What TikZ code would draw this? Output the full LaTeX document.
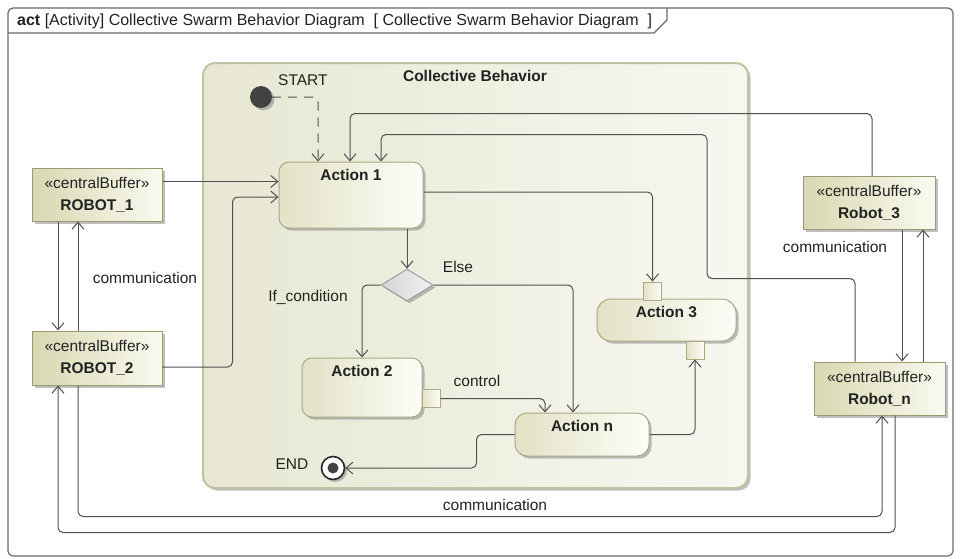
\documentclass[tikz,border=0pt]{standalone}
\usepackage{fontspec}
\setmainfont{Liberation Sans}
\usetikzlibrary{arrows.meta,shapes.geometric,shadows}

\definecolor{linegray}{HTML}{505050}
\definecolor{textcol}{HTML}{222222}
\definecolor{framecol}{HTML}{6A6A6A}
\definecolor{actborder}{HTML}{A9A982}
\definecolor{actdark}{HTML}{E2E2C6}
\definecolor{actlight}{HTML}{FDFDF8}
\definecolor{bufborder}{HTML}{9A9A70}
\definecolor{bufdark}{HTML}{D8D8B2}
\definecolor{buflight}{HTML}{FAFAF0}
\definecolor{regborder}{HTML}{C2C2A2}
\definecolor{regdark}{HTML}{E7E7D3}
\definecolor{reglight}{HTML}{F7F7F0}
\definecolor{decdark}{HTML}{D4D4D4}
\definecolor{declight}{HTML}{F2F2F2}
\definecolor{startcol}{HTML}{424242}

\tikzset{
  rg/.style={font=\fontsize{15.5}{18}\selectfont, text=textcol, inner sep=0pt},
  bd/.style={font=\fontsize{15.5}{18}\selectfont\bfseries, text=textcol, inner sep=0pt},
  shadowed/.style={drop shadow={shadow xshift=2.5pt, shadow yshift=-2.5pt, fill=black!50, opacity=.5}},
  flow/.style={draw=linegray, line width=1pt, rounded corners=5pt,
    -{Straight Barb[length=7pt,width=12pt]}},
  actbox/.style={draw=actborder, line width=1pt, rounded corners=10pt,
    left color=actdark, right color=actlight, shadowed, inner sep=0pt},
  acttitle/.style={label={[bd, anchor=north, yshift=-8pt]north:#1}},
  pinbox/.style={draw=actborder, line width=.9pt, left color=actdark, right color=actlight,
    minimum size=18pt, inner sep=0pt},
  bufbox/.style={draw=bufborder, line width=1pt, left color=bufdark, right color=buflight,
    shadowed, align=center, inner sep=0pt, text=textcol,
    font=\fontsize{15.5}{22}\selectfont},
  regionbox/.style={draw=regborder, line width=2pt, rounded corners=12pt,
    left color=regdark, right color=reglight, shadowed, inner sep=0pt},
}

\begin{document}
\begin{tikzpicture}[x=1pt,y=-1pt]
\useasboundingbox (0,0) rectangle (961,558);

% diagram frame and its name tab
\draw[framecol, line width=1.2pt, rounded corners=5pt] (8,8) rectangle (953,556);
\draw[framecol, line width=1.2pt] (8,33) -- (654,33) -- (667,20) -- (667,8);
\node[rg, font=\fontsize{16}{18}\selectfont, anchor=west] (hdr) at (17,21)
  {\textbf{act} [Activity] Collective Swarm Behavior Diagram\ \ [ Collective Swarm Behavior Diagram\ \ ]};

% activity region
\node[regionbox, minimum width=545pt, minimum height=425pt] (cb) at (475.5,275.5) {};
\node[bd] (cbt) at (475,76) {Collective Behavior};

% initial and final nodes
\node[circle, fill=startcol, minimum size=22pt, inner sep=0pt, shadowed] (start) at (261,97) {};
\node[rg, anchor=west] (startlbl) at (278,80) {START};
\node[circle, draw=black!85, line width=1.6pt, fill=white, minimum size=23pt, inner sep=0pt,
  shadowed, path picture={\fill[startcol] (path picture bounding box.center) circle (5.5pt);}]
  (end) at (333,468) {};
\node[rg] (endlbl) at (292,464) {END};

% actions
\node[actbox, minimum width=144pt, minimum height=66pt, acttitle={Action 1}] (a1) at (351,195) {};
\node[actbox, minimum width=120pt, minimum height=59pt, acttitle={Action 2}] (a2) at (362,387.5) {};
\node[actbox, rounded corners=14pt, minimum width=139pt, minimum height=42pt, acttitle={Action 3}] (a3) at (666.5,320) {};
\node[actbox, rounded corners=12pt, minimum width=134pt, minimum height=43pt, acttitle={Action n}] (an) at (582,434.5) {};

% pins
\node[pinbox] (pin2) at (431,398.5) {};
\node[pinbox] (pin3in) at (652.5,291) {};
\node[pinbox] (pin3out) at (695,350) {};

% decision
\node[diamond, draw=black!40, line width=.9pt, left color=decdark, right color=declight,
  minimum width=52pt, minimum height=32pt, aspect=1.625, inner sep=0pt, shadowed] (dec) at (407,285) {};

% central buffers
\node[bufbox, minimum width=130pt, minimum height=53pt] (r1) at (97,194.5) {«centralBuffer»\\\textbf{ROBOT\_1}};
\node[bufbox, minimum width=130pt, minimum height=54pt] (r2) at (97,358) {«centralBuffer»\\\textbf{ROBOT\_2}};
\node[bufbox, minimum width=132pt, minimum height=53pt] (r3) at (869,202.5) {«centralBuffer»\\\textbf{Robot\_3}};
\node[bufbox, minimum width=131pt, minimum height=53pt] (rn) at (879.5,388.5) {«centralBuffer»\\\textbf{Robot\_n}};

% control flows inside the region
\draw[flow, dash pattern=on 9pt off 7pt] (start) -| ([xshift=-33pt]a1.north);
\draw[flow] ([xshift=56pt]a1.south) -- (dec.north);
\draw[flow] (dec.west) -| (a2.north);
\draw[flow] (dec.east) -| ([xshift=-9pt]an.north);
\draw[flow] (pin2.east) -| ([xshift=-37pt]an.north);
\draw[flow] ([yshift=3pt]a1.east) -| (pin3in.north);
\draw[flow] (an.east) -| (pin3out.south);
\draw[flow] (an.west) -- ++(-38,0) |- (end.east);

% object flows from the buffers
\draw[flow] ([yshift=13pt]r1.east) -- ([yshift=13.5pt]a1.west);
\draw[flow] ([yshift=-9pt]r2.east) -- ++(70,0) |- ([yshift=-2pt]a1.west);
\draw[flow] ([xshift=3pt]r3.north) -- ++(0,-62) -| ([xshift=-1pt]a1.north);
\draw[flow] ([xshift=-24.5pt]rn.north) -- ++(0,-83) -- ++(-148,0) -- ++(0,-144) -| ([xshift=30pt]a1.north);

% communication between buffers
\draw[flow] ([xshift=-39pt]r1.south) -- ([xshift=-39pt]r2.north);
\draw[flow] ([xshift=-19pt]r2.north) -- ([xshift=-19pt]r1.south);
\draw[flow] ([xshift=33pt]r3.south) -- ([xshift=22.5pt]rn.north);
\draw[flow] ([xshift=43.5pt]rn.north) -- ([xshift=54pt]r3.south);
\draw[flow] ([xshift=-19pt]r2.south) -- ++(0,131) -| ([xshift=2.5pt]rn.south);
\draw[flow] ([xshift=15.5pt]rn.south) -- ++(0,117) -| ([xshift=-39pt]r2.south);

% flow labels
\node[rg] (lcomm1) at (145,278) {communication};
\node[rg] (lcomm2) at (835,247) {communication};
\node[rg] (lcomm3) at (495,505) {communication};
\node[rg] (lif) at (308,297) {If\_condition};
\node[rg] (lelse) at (458,267) {Else};
\node[rg] (lctrl) at (477,381) {control};
\end{tikzpicture}
\end{document}
